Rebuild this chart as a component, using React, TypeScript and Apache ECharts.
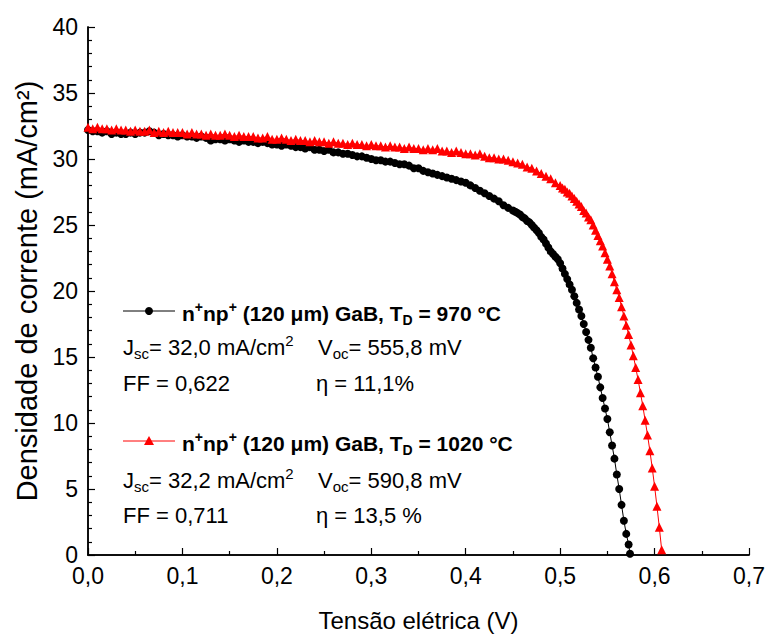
import React, { useEffect, useRef } from "react";
import * as echarts from "echarts";

const FONT = '"Liberation Sans", Arial, Helvetica, sans-serif';

// Tick labels
const X_TICKS = [0, 0.1, 0.2, 0.3, 0.4, 0.5, 0.6, 0.7];
const Y_TICKS = [0, 5, 10, 15, 20, 25, 30, 35, 40];

// Series 1: n+np+ (120 um) GaB, TD = 970 °C  (black circles)
const blackV = [
  0, 0.005, 0.01, 0.015, 0.02, 0.025, 0.03, 0.035, 0.04, 0.045,
  0.05, 0.055, 0.06, 0.065, 0.07, 0.075, 0.08, 0.085, 0.09, 0.095,
  0.1, 0.105, 0.11, 0.115, 0.12, 0.125, 0.13, 0.135, 0.14, 0.145,
  0.15, 0.155, 0.16, 0.165, 0.17, 0.175, 0.18, 0.185, 0.19, 0.195,
  0.2, 0.205, 0.21, 0.215, 0.22, 0.225, 0.23, 0.235, 0.24, 0.245,
  0.25, 0.255, 0.26, 0.265, 0.27, 0.275, 0.28, 0.285, 0.29, 0.295,
  0.3, 0.305, 0.31, 0.315, 0.32, 0.325, 0.33, 0.335, 0.34, 0.345,
  0.35, 0.355, 0.36, 0.365, 0.37, 0.375, 0.38, 0.385, 0.39, 0.395,
  0.4, 0.405, 0.41, 0.415, 0.42, 0.425, 0.43, 0.435, 0.44, 0.445,
  0.45, 0.4525, 0.455, 0.4575, 0.46, 0.4625, 0.465, 0.4675, 0.47, 0.4725,
  0.475, 0.4775, 0.48, 0.4825, 0.485, 0.4875, 0.49, 0.4925, 0.495, 0.4975,
  0.5, 0.5025, 0.505, 0.5075, 0.51, 0.5125, 0.515, 0.5175, 0.52, 0.5225,
  0.525, 0.5275, 0.53, 0.5325, 0.535, 0.5375, 0.54, 0.5425, 0.545, 0.5475,
  0.55, 0.5525, 0.555, 0.5575, 0.56, 0.5625, 0.565, 0.5675, 0.57, 0.5725,
  0.574,
];
const blackJ = [
  32.2, 32.1, 32.1, 32.0, 32.1, 31.9, 32.0, 31.9, 31.9, 32.0,
  31.9, 32.0, 32.0, 32.1, 32.0, 31.8, 31.9, 31.8, 31.8, 31.7,
  31.8, 31.7, 31.7, 31.6, 31.7, 31.6, 31.4, 31.5, 31.5, 31.4,
  31.5, 31.4, 31.3, 31.4, 31.3, 31.3, 31.2, 31.3, 31.2, 31.1,
  31.1, 31.0, 31.1, 31.0, 30.9, 30.9, 30.8, 30.9, 30.7, 30.7,
  30.6, 30.7, 30.5, 30.5, 30.4, 30.4, 30.3, 30.2, 30.2, 30.1,
  30.0, 29.9, 29.9, 29.8, 29.8, 29.7, 29.6, 29.6, 29.5, 29.3,
  29.3, 29.1, 29.0, 28.9, 28.8, 28.7, 28.6, 28.5, 28.4, 28.3,
  28.2, 28.0, 27.8, 27.6, 27.4, 27.2, 27.0, 26.8, 26.5, 26.3,
  26.1, 26.0, 25.9, 25.8, 25.6, 25.5, 25.3, 25.2, 25.0, 24.8,
  24.6, 24.4, 24.1, 23.9, 23.6, 23.3, 23.0, 22.8, 22.6, 22.4,
  22.1, 21.7, 21.3, 20.9, 20.5, 20.1, 19.6, 19.1, 18.6, 18.1,
  17.5, 16.9, 16.3, 15.7, 14.9, 14.2, 13.5, 12.7, 11.9, 11.1,
  10.3, 9.3, 8.3, 7.3, 6.1, 5.0, 3.8, 2.6, 1.6, 0.8,
  0.1,
];

// Series 2: n+np+ (120 um) GaB, TD = 1020 °C  (red triangles)
const redV = [
  0, 0.005, 0.01, 0.015, 0.02, 0.025, 0.03, 0.035, 0.04, 0.045,
  0.05, 0.055, 0.06, 0.065, 0.07, 0.075, 0.08, 0.085, 0.09, 0.095,
  0.1, 0.105, 0.11, 0.115, 0.12, 0.125, 0.13, 0.135, 0.14, 0.145,
  0.15, 0.155, 0.16, 0.165, 0.17, 0.175, 0.18, 0.185, 0.19, 0.195,
  0.2, 0.205, 0.21, 0.215, 0.22, 0.225, 0.23, 0.235, 0.24, 0.245,
  0.25, 0.255, 0.26, 0.265, 0.27, 0.275, 0.28, 0.285, 0.29, 0.295,
  0.3, 0.305, 0.31, 0.315, 0.32, 0.325, 0.33, 0.335, 0.34, 0.345,
  0.35, 0.355, 0.36, 0.365, 0.37, 0.375, 0.38, 0.385, 0.39, 0.395,
  0.4, 0.405, 0.41, 0.415, 0.42, 0.425, 0.43, 0.435, 0.44, 0.445,
  0.45, 0.455, 0.46, 0.465, 0.47, 0.475, 0.48, 0.485, 0.49, 0.495,
  0.5, 0.5025, 0.505, 0.5075, 0.51, 0.5125, 0.515, 0.5175, 0.52, 0.5225,
  0.525, 0.5275, 0.53, 0.5325, 0.535, 0.5375, 0.54, 0.5425, 0.545, 0.5475,
  0.55, 0.5525, 0.555, 0.5575, 0.56, 0.5625, 0.565, 0.5675, 0.57, 0.5725,
  0.575, 0.5775, 0.58, 0.5825, 0.585, 0.5875, 0.59, 0.5925, 0.595, 0.5975,
  0.6, 0.6025, 0.605, 0.6075,
];
const redJ = [
  32.4, 32.3, 32.4, 32.3, 32.3, 32.2, 32.3, 32.2, 32.2, 32.1,
  32.2, 32.1, 32.1, 32.2, 32.0, 32.1, 32.0, 32.1, 32.0, 32.0,
  32.0, 31.9, 32.0, 31.9, 31.9, 31.8, 31.9, 31.8, 31.8, 31.9,
  31.8, 31.7, 31.8, 31.7, 31.7, 31.7, 31.6, 31.6, 31.7, 31.5,
  31.5, 31.6, 31.5, 31.4, 31.5, 31.4, 31.4, 31.3, 31.4, 31.3,
  31.3, 31.2, 31.3, 31.2, 31.2, 31.1, 31.2, 31.1, 31.1, 31.0,
  31.1, 31.0, 31.0, 30.9, 31.0, 30.9, 30.9, 30.8, 30.9, 30.8,
  30.8, 30.7, 30.8, 30.7, 30.8, 30.6, 30.6, 30.5, 30.6, 30.5,
  30.4, 30.4, 30.3, 30.4, 30.2, 30.1, 30.1, 30.0, 30.0, 29.9,
  29.8, 29.7, 29.6, 29.4, 29.3, 29.1, 28.9, 28.7, 28.5, 28.2,
  28.0, 27.8, 27.7, 27.5, 27.4, 27.2, 27.0, 26.8, 26.6, 26.4,
  26.1, 25.9, 25.6, 25.4, 25.0, 24.6, 24.2, 23.8, 23.4, 22.9,
  22.4, 21.9, 21.3, 20.7, 20.1, 19.5, 18.8, 18.1, 17.4, 16.7,
  15.9, 15.1, 14.2, 13.3, 12.3, 11.3, 10.2, 9.1, 7.9, 6.6,
  5.2, 3.7, 2.1, 0.4,
];

// Legend / annotation texts
const TEMPS = ["970", "1020"];
const JSC = ["32,0", "32,2"];
const VOC = ["555,8", "590,8"];
const FF = ["0,622", "0,711"];
const ETA = ["11,1%", "13,5 %"];
const COLORS = ["#000000", "#ff0000"];

const fmt = (v: number) => v.toFixed(1).replace(".", ",");

const richRegular = {
  r: { fontFamily: FONT, fontSize: 22, fill: "#000", lineHeight: 28 },
  s: { fontFamily: FONT, fontSize: 15, fill: "#000", lineHeight: 15, verticalAlign: "bottom" },
  p: { fontFamily: FONT, fontSize: 15, fill: "#000", lineHeight: 15, verticalAlign: "top" },
};
const richBold = {
  b: { fontFamily: FONT, fontSize: 21, fontWeight: "bold", fill: "#000", lineHeight: 28 },
  sup: { fontFamily: FONT, fontSize: 14, fontWeight: "bold", fill: "#000", lineHeight: 14, verticalAlign: "top", padding: [1, 0, 0, 0] },
  sub: { fontFamily: FONT, fontSize: 14, fontWeight: "bold", fill: "#000", lineHeight: 14, verticalAlign: "bottom" },
};

function textEl(x: number, y: number, text: string, rich: any) {
  return {
    type: "text",
    x,
    y,
    style: { text, rich, verticalAlign: "middle", align: "left" },
  };
}

function legendBlock(i: number, y0: number, yJ: number, yF: number) {
  const color = COLORS[i];
  const marker =
    i === 0
      ? { type: "circle", shape: { cx: 149, cy: y0, r: 4 }, style: { fill: color } }
      : {
          type: "polygon",
          shape: { points: [[149, y0 - 5], [144, y0 + 4], [154, y0 + 4]] },
          style: { fill: color },
        };
  return [
    { type: "line", shape: { x1: 123, y1: y0, x2: 175, y2: y0 }, style: { stroke: color, lineWidth: 1 } },
    marker,
    textEl(
      182,
      y0 + 2,
      `{b|n}{sup|+}{b|np}{sup|+}{b| (120 μm) GaB, T}{sub|D}{b| = ${TEMPS[i]} °C}`,
      richBold
    ),
    textEl(123, yJ, `{r|J}{s|sc}{r|= ${JSC[i]} mA/cm}{p|2}`, richRegular),
    textEl(318, yJ, `{r|V}{s|oc}{r|= ${VOC[i]} mV}`, richRegular),
    textEl(123, yF, `{r|FF = ${FF[i]}}`, richRegular),
    textEl(316, yF, `{r|η = ${ETA[i]}}`, richRegular),
  ];
}

export default function App() {
  const ref = useRef<HTMLDivElement>(null);
  useEffect(() => {
    document.body.style.margin = "0";
    const chart = echarts.init(ref.current!, null, { renderer: "svg" });
    const axisLine = { show: true, lineStyle: { color: "#000", width: 1.5 } };
    chart.setOption({
      animation: false,
      backgroundColor: "#fff",
      grid: { left: 88, right: 16, top: 27, bottom: 77, containLabel: false },
      xAxis: [
        {
          type: "value",
          min: X_TICKS[0],
          max: X_TICKS[X_TICKS.length - 1],
          interval: 0.1,
          position: "bottom",
          axisLine,
          axisTick: { show: true, inside: true, length: 7, lineStyle: { color: "#000", width: 1.2 } },
          minorTick: { show: true, splitNumber: 2, length: 4, lineStyle: { color: "#000", width: 1.2 } },
          splitLine: { show: false },
          axisLabel: {
            margin: 9,
            fontFamily: FONT,
            fontSize: 23,
            color: "#000",
            formatter: (v: number) => fmt(v),
          },
          name: "Tensão elétrica (V)",
          nameLocation: "middle",
          nameGap: 53,
          nameTextStyle: { fontFamily: FONT, fontSize: 24, color: "#000" },
        },
        {
          type: "value",
          min: X_TICKS[0],
          max: X_TICKS[X_TICKS.length - 1],
          position: "top",
          axisLine,
          axisTick: { show: false },
          axisLabel: { show: false },
          splitLine: { show: false },
        },
      ],
      yAxis: [
        {
          type: "value",
          min: Y_TICKS[0],
          max: Y_TICKS[Y_TICKS.length - 1],
          interval: 5,
          position: "left",
          axisLine,
          axisTick: { show: true, inside: true, length: 7, lineStyle: { color: "#000", width: 1.2 } },
          minorTick: { show: true, splitNumber: 5, length: 4, lineStyle: { color: "#000", width: 1.2 } },
          splitLine: { show: false },
          axisLabel: { margin: 10, fontFamily: FONT, fontSize: 23, color: "#000" },
          name: "Densidade de corrente (mA/cm²)",
          nameLocation: "middle",
          nameGap: 44,
          nameTextStyle: { fontFamily: FONT, fontSize: 29, color: "#000" },
        },
        {
          type: "value",
          min: Y_TICKS[0],
          max: Y_TICKS[Y_TICKS.length - 1],
          position: "right",
          axisLine,
          axisTick: { show: false },
          axisLabel: { show: false },
          splitLine: { show: false },
        },
      ],
      series: [
        {
          type: "line",
          data: blackV.map((v, i) => [v, blackJ[i]]),
          symbol: "circle",
          symbolSize: 8,
          showSymbol: true,
          showAllSymbol: true,
          itemStyle: { color: COLORS[0] },
          lineStyle: { color: COLORS[0], width: 1 },
          clip: true,
        },
        {
          type: "line",
          data: redV.map((v, i) => [v, redJ[i]]),
          symbol: "triangle",
          symbolSize: 9,
          showSymbol: true,
          showAllSymbol: true,
          itemStyle: { color: COLORS[1] },
          lineStyle: { color: COLORS[1], width: 1 },
          clip: true,
        },
      ],
      graphic: [...legendBlock(0, 311, 347, 383), ...legendBlock(1, 441, 480, 515)],
    });
    return () => chart.dispose();
  }, []);
  return (
    <div
      ref={ref}
      style={{ position: "fixed", left: 0, top: 0, width: 768, height: 637, background: "#fff" }}
    />
  );
}
